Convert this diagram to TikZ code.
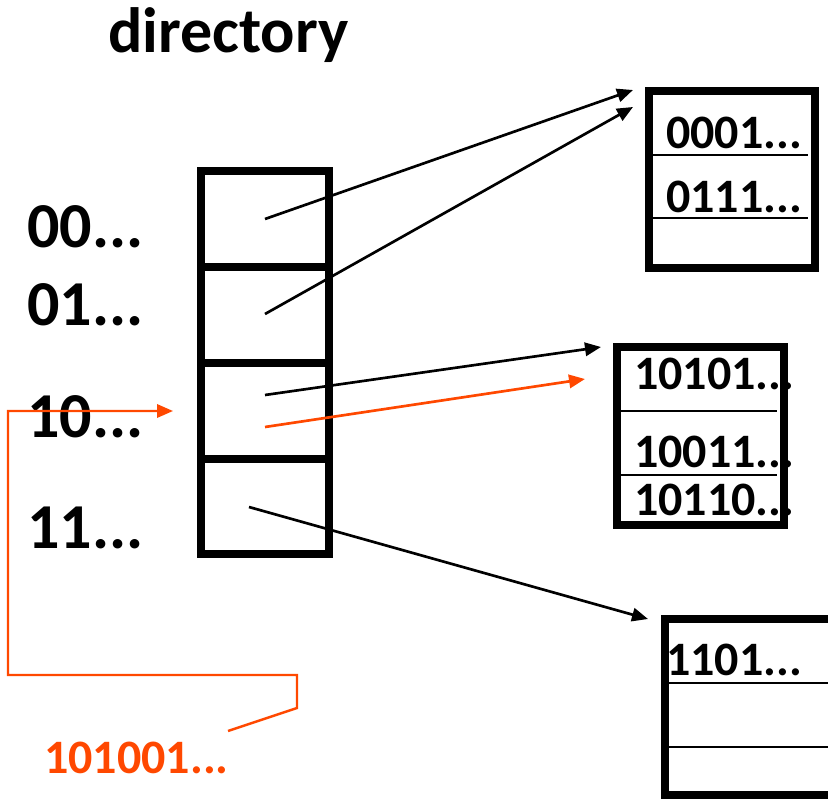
\documentclass[tikz,border=0pt]{standalone}
\usepackage{fontspec}
\setmainfont{Carlito}
\usetikzlibrary{arrows.meta}
\definecolor{myorange}{RGB}{255,72,0}
\begin{document}
\begin{tikzpicture}[x=0.75pt,y=-0.75pt,
  thickbox/.style={line width=6pt},
  slot/.style={line width=1.5pt},
  ptr/.style={line width=2pt,-{Triangle[length=12pt,width=10pt]}},
  optr/.style={ptr,draw=myorange},
  big/.style={font=\fontsize{48}{50}\selectfont\bfseries,inner sep=0pt,anchor=base west},
  key/.style={font=\fontsize{36}{40}\selectfont\bfseries,inner sep=0pt,anchor=base west},
]
\useasboundingbox (0,0) rectangle (828,799);
\clip (0,0) rectangle (828,799);

% directory
\node[big] (title) at (108,53) {directory};
\draw[thickbox] (201,171) rectangle (329,554);
\draw[thickbox] (201,267) -- (329,267);
\draw[thickbox] (201,363) -- (329,363);
\draw[thickbox] (201,459) -- (329,459);
\node[big] (l00) at (27,247) {00...};
\node[big] (l01) at (27,325) {01...};
\node[big] (l10) at (27,437) {10...};
\node[big] (l11) at (27,548) {11...};

% buckets
\draw[thickbox] (649,91) rectangle (815,268);
\draw[slot] (650,155) -- (808,155);
\draw[slot] (650,218) -- (808,218);
\node[key] (k1) at (666,148) {0001...};
\node[key] (k2) at (666,212) {0111...};

\draw[thickbox] (617,347) rectangle (784,525);
\draw[slot] (620,411) -- (777,411);
\draw[slot] (620,475) -- (777,475);
\node[key] (k3) at (634,389) {10101...};
\node[key] (k4) at (634,467) {10011...};
\node[key] (k5) at (634,515) {10110...};

\draw[thickbox] (665,619) rectangle (840,795);
\draw[slot] (669,683) -- (828,683);
\draw[slot] (669,747) -- (828,747);
\node[key] (k6) at (666,675) {1101...};

% pointers
\coordinate (s00) at (265,219);
\coordinate (s01) at (265,314);
\coordinate (s10) at (265,395);
\coordinate (s10o) at (265,427);
\coordinate (s11) at (249,507);
\coordinate (tA1) at (633,90);
\coordinate (tA2) at (633,107);
\coordinate (tB1) at (601,347);
\coordinate (tBo) at (585,379);
\coordinate (tC) at (648,619);
\draw[ptr] (s00) -- (tA1);
\draw[ptr] (s01) -- (tA2);
\draw[ptr] (s10) -- (tB1);
\draw[optr] (s10o) -- (tBo);
\draw[ptr] (s11) -- (tC);

% lookup key
\node[key,text=myorange,font=\fontsize{36}{40}\selectfont\bfseries] (q) at (44,773) {101001...};
\coordinate (q0) at (228,731);
\coordinate (qin) at (173,411);
\draw[optr,line width=1.8pt] (q0) -- (297,708) -- (297,675) -- (8,675) -- (8,411) -- (qin);
\end{tikzpicture}
\end{document}
